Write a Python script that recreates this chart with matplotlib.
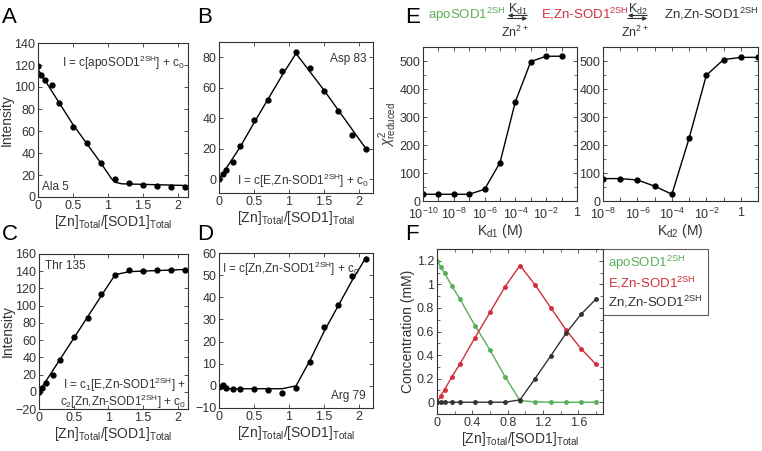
import numpy as np
import matplotlib
matplotlib.use('Agg')
import matplotlib.pyplot as plt
from matplotlib.lines import Line2D
from matplotlib.ticker import MultipleLocator, NullLocator

plt.rcParams['font.family'] = ['Liberation Sans', 'DejaVu Sans']
plt.rcParams['mathtext.fontset'] = 'custom'
plt.rcParams['mathtext.rm'] = 'Liberation Sans'
plt.rcParams['mathtext.it'] = 'Liberation Sans:italic'
plt.rcParams['mathtext.bf'] = 'Liberation Sans:bold'

# ---- data ----
ratio = [0, 0.05, 0.1, 0.2, 0.3, 0.5, 0.7, 0.9, 1.1, 1.3, 1.5, 1.7, 1.9, 2.1]

ala5 = [119, 110.5, 106, 102, 85, 64, 49, 30.5, 16, 12.5, 11.3, 10.4, 9.5, 9.5]
ala5_fit_x = [0, 0.5, 0.9, 1.05, 1.1, 1.2, 2.1]
ala5_fit_y = [116, 66, 31, 17, 13.5, 12, 10.5]

asp83 = [0, 3.7, 6, 11, 22, 39, 52, 70.7, 83.7, 73, 57.8, 44.6, 29, 19.8]
asp83_fit_x = [0, 0.3, 0.5, 0.9, 1.1, 1.5, 1.9, 2.1]
asp83_fit_y = [0, 21, 37, 68, 82.5, 58.4, 32.8, 20]

thr135 = [0, 4.3, 10, 20, 37, 64, 85.5, 113, 135.7, 141, 140, 141, 142, 142]
thr135_fit_x = [0, 0.5, 1.0, 1.1, 1.3, 2.1]
thr135_fit_y = [0, 62, 124, 136, 139.5, 142]

arg79 = [-0.5, 0.6, -1, -1.4, -1.4, -1.4, -1.7, -3, -0.9, 10.9, 26.4, 36.5, 49.8, 57.4]
arg79_fit_x = [0, 0.9, 1.1, 1.3, 1.5, 1.7, 1.9, 2.1]
arg79_fit_y = [-1.3, -1.3, 0, 11.5, 24.5, 36, 47.5, 58]

kd1 = [1e-10, 1e-9, 1e-8, 1e-7, 1e-6, 1e-5, 1e-4, 1e-3, 1e-2, 1e-1]
chi_kd1 = [24, 24, 24, 24, 42, 137, 355, 498, 517, 517]
kd2 = [1e-8, 1e-7, 1e-6, 1e-5, 1e-4, 1e-3, 1e-2, 1e-1, 1, 10]
chi_kd2 = [80, 80, 75, 53, 24, 224, 449, 505, 513, 513]

ratio_f = [0, 0.043, 0.086, 0.17, 0.26, 0.43, 0.6, 0.77, 0.94, 1.11, 1.29, 1.46, 1.63, 1.8]
conc_apo = [1.2, 1.15, 1.095, 0.985, 0.875, 0.65, 0.443, 0.217, 0.014, 0.003, 0, 0, 0, 0]
conc_ezn = [0, 0.056, 0.107, 0.217, 0.325, 0.548, 0.762, 0.98, 1.16, 0.997, 0.8, 0.615, 0.455, 0.322]
conc_znzn = [0, 0, 0, 0, 0, 0, 0, 0, 0.02, 0.2, 0.395, 0.584, 0.745, 0.875]

green = '#5aae5a'
red = '#d0303c'
dark = '#333333'

W, H = 762, 451
fig = plt.figure(figsize=(W / 100, H / 100), dpi=100)


def px_axes(l, t, r, b):
    return fig.add_axes([l / W, 1 - b / H, (r - l) / W, (b - t) / H])


def style(ax):
    for s in ax.spines.values():
        s.set_color(dark)
        s.set_linewidth(0.8)
    ax.tick_params(direction='in', top=True, right=True, length=3, width=0.6,
                   colors=dark, labelsize=9, pad=2)
    ax.tick_params(which='minor', direction='in', top=True, right=True,
                   length=2, width=0.5, colors=dark)


xlab = r'[Zn]$_{\mathrm{Total}}$/[SOD1]$_{\mathrm{Total}}$'
tkw = dict(fontsize=8.5, color=dark)
lab = dict(fontsize=10, color=dark)
ms = 3.5

# ---- A ----
ax = px_axes(38, 43, 188, 197)
ax.plot(ala5_fit_x, ala5_fit_y, color='k', lw=1)
ax.plot(ratio, ala5, 'o', color='k', ms=ms)
ax.set_xlim(0, 2.15)
ax.set_ylim(0, 140)
ax.set_xticks([0, 0.5, 1, 1.5, 2])
ax.set_xticklabels(['0', '0.5', '1', '1.5', '2'])
ax.set_yticks(range(0, 141, 20))
ax.set_ylabel('Intensity', labelpad=0, **lab)
ax.set_xlabel(xlab, labelpad=1, **lab)
ax.text(2.1, 122, r'I = c[apoSOD1$^{\mathrm{2SH}}$] + c$_0$', ha='right', va='center', **tkw)
ax.text(0.06, 9, 'Ala 5', ha='left', va='center', **tkw)
style(ax)

# ---- B ----
ax = px_axes(219, 42, 373, 193)
ax.plot(asp83_fit_x, asp83_fit_y, color='k', lw=1)
ax.plot(ratio, asp83, 'o', color='k', ms=ms)
ax.set_xlim(0, 2.2)
ax.set_ylim(-9, 90)
ax.set_xticks([0, 0.5, 1, 1.5, 2])
ax.set_xticklabels(['0', '0.5', '1', '1.5', '2'])
ax.set_yticks(range(0, 81, 20))
ax.set_xlabel(xlab, labelpad=1, **lab)
ax.text(2.1, 79, 'Asp 83', ha='right', va='center', **tkw)
ax.text(2.15, -1, r'I = c[E,Zn-SOD1$^{\mathrm{2SH}}$] + c$_0$', ha='right', va='center', **tkw)
style(ax)

# ---- C ----
ax = px_axes(39, 254, 188, 409)
ax.plot(thr135_fit_x, thr135_fit_y, color='k', lw=1)
ax.plot(ratio, thr135, 'o', color='k', ms=ms)
ax.set_xlim(0, 2.15)
ax.set_ylim(-20, 160)
ax.set_xticks([0, 0.5, 1, 1.5, 2])
ax.set_xticklabels(['0', '0.5', '1', '1.5', '2'])
ax.set_yticks(range(-20, 161, 20))
ax.set_ylabel('Intensity', labelpad=0, **lab)
ax.set_xlabel(xlab, labelpad=1, **lab)
ax.text(0.09, 146, 'Thr 135', ha='left', va='center', **tkw)
ax.text(2.12, 8, r'I = c$_1$[E,Zn-SOD1$^{\mathrm{2SH}}$] +', ha='right', va='center', **tkw)
ax.text(2.12, -12, r'c$_2$[Zn,Zn-SOD1$^{\mathrm{2SH}}$] + c$_0$', ha='right', va='center', **tkw)
style(ax)

# ---- D ----
ax = px_axes(219, 253, 373, 408)
ax.plot(arg79_fit_x, arg79_fit_y, color='k', lw=1)
ax.plot(ratio, arg79, 'o', color='k', ms=ms)
ax.set_xlim(0, 2.2)
ax.set_ylim(-10, 60)
ax.set_xticks([0, 0.5, 1, 1.5, 2])
ax.set_xticklabels(['0', '0.5', '1', '1.5', '2'])
ax.set_yticks(range(-10, 61, 10))
ax.set_xlabel(xlab, labelpad=1, **lab)
ax.text(0.05, 53, r'I = c[Zn,Zn-SOD1$^{\mathrm{2SH}}$] + c$_0$', ha='left', va='center', **tkw)
ax.text(2.1, -4.7, 'Arg 79', ha='right', va='center', **tkw)
style(ax)

# ---- E ----
def log_labels(exps):
    out = []
    for e in exps:
        if e == 0:
            out.append('1')
        elif (e - exps[0]) % 2 == 0:
            out.append(r'$10^{%d}$' % e)
        else:
            out.append('')
    return out

ax = px_axes(423, 47, 577, 201)
ax.plot(kd1, chi_kd1, '-o', color='k', lw=1, ms=ms)
ax.set_xscale('log')
ax.set_xlim(1e-10, 1)
ax.set_ylim(0, 550)
exps = list(range(-10, 1))
ax.set_xticks([10.0 ** e for e in exps])
ax.set_xticklabels(log_labels(exps))
ax.xaxis.set_minor_locator(NullLocator())
ax.set_yticks(range(0, 501, 100))
ax.yaxis.set_minor_locator(MultipleLocator(50))
ax.set_xlabel(r'K$_{\mathrm{d1}}$ (M)', labelpad=0, **lab)
ax.set_ylabel(r'$\chi^{2}_{\mathrm{reduced}}$', labelpad=0, **lab)
style(ax)
ax.tick_params(axis='x', pad=4)

ax = px_axes(603, 47, 758, 201)
ax.plot(kd2, chi_kd2, '-o', color='k', lw=1, ms=ms)
ax.set_xscale('log')
ax.set_xlim(1e-8, 10)
ax.set_ylim(0, 550)
exps = list(range(-8, 2))
ax.set_xticks([10.0 ** e for e in exps])
ax.set_xticklabels(log_labels(exps))
ax.xaxis.set_minor_locator(NullLocator())
ax.set_yticks(range(0, 501, 100))
ax.yaxis.set_minor_locator(MultipleLocator(50))
ax.set_xlabel(r'K$_{\mathrm{d2}}$ (M)', labelpad=0, **lab)
style(ax)
ax.tick_params(axis='x', pad=4)

# reaction scheme
def ftext(x, y, s, **kw):
    fig.text(x / W, 1 - y / H, s, **kw)

def eq_arrow(x0, x1, y):
    fig.add_artist(matplotlib.patches.FancyArrowPatch(
        (x1 / W, 1 - (y - 1.5) / H), (x0 / W, 1 - (y - 1.5) / H), transform=fig.transFigure,
        arrowstyle='-|>', mutation_scale=6, lw=0.8, color=dark))
    fig.add_artist(matplotlib.patches.FancyArrowPatch(
        (x0 / W, 1 - (y + 1.5) / H), (x1 / W, 1 - (y + 1.5) / H), transform=fig.transFigure,
        arrowstyle='-|>', mutation_scale=6, lw=0.8, color=dark))

hfs = 9.5
ftext(428, 19, r'apoSOD1$^{\mathrm{2SH}}$', color=green, fontsize=hfs, va='baseline')
eq_arrow(505, 530, 17)
ftext(518, 13, r'K$_{\mathrm{d1}}$', color=dark, fontsize=9, ha='center', va='baseline')
ftext(515, 37, r'Zn$^{2+}$', color=dark, fontsize=9, ha='center', va='baseline')
ftext(541, 19, r'E,Zn-SOD1$^{\mathrm{2SH}}$', color=red, fontsize=hfs, va='baseline')
eq_arrow(625, 650, 17)
ftext(638, 13, r'K$_{\mathrm{d2}}$', color=dark, fontsize=9, ha='center', va='baseline')
ftext(635, 37, r'Zn$^{2+}$', color=dark, fontsize=9, ha='center', va='baseline')
ftext(664, 19, r'Zn,Zn-SOD1$^{\mathrm{2SH}}$', color=dark, fontsize=hfs, va='baseline')

# ---- F ----
ax = px_axes(437, 249, 603, 414)
ax.plot(ratio_f, conc_apo, '-o', color=green, lw=1, ms=2.5)
ax.plot(ratio_f, conc_ezn, '-o', color=red, lw=1, ms=2.5)
ax.plot(ratio_f, conc_znzn, '-o', color=dark, lw=1, ms=2.5)
ax.set_xlim(0, 1.88)
ax.set_ylim(-0.1, 1.3)
ax.set_xticks([0, 0.4, 0.8, 1.2, 1.6])
ax.set_xticklabels(['0', '0.4', '0.8', '1.2', '1.6'])
ax.xaxis.set_minor_locator(MultipleLocator(0.2))
ax.set_yticks([0, 0.2, 0.4, 0.6, 0.8, 1, 1.2])
ax.set_yticklabels(['0', '0.2', '0.4', '0.6', '0.8', '1', '1.2'])
ax.yaxis.set_minor_locator(MultipleLocator(0.1))
ax.set_xlabel(xlab, labelpad=1, **lab)
ax.set_ylabel('Concentration (mM)', labelpad=1, **lab)
style(ax)
handles = [Line2D([], [], linestyle='none') for _ in range(3)]
leg = ax.legend(handles, [r'apoSOD1$^{\mathrm{2SH}}$', r'E,Zn-SOD1$^{\mathrm{2SH}}$',
                          r'Zn,Zn-SOD1$^{\mathrm{2SH}}$'],
                loc='upper left', bbox_to_anchor=(1.0, 1.0), frameon=True, fancybox=False,
                handlelength=0, handletextpad=0, fontsize=9.5, labelcolor=[green, red, dark],
                borderpad=0.4, labelspacing=0.2, borderaxespad=0)
leg.get_frame().set_edgecolor(dark)
leg.get_frame().set_linewidth(0.8)
for t in leg.get_texts():
    t.set_ha('center')

# panel letters
for letter, x, y in [('A', 2, 23), ('B', 197, 23), ('C', 2, 240), ('D', 197, 240),
                     ('E', 405, 23), ('F', 405, 240)]:
    ftext(x, y, letter, fontsize=16, color='k', va='baseline')

fig.savefig('out.png', dpi=100)
